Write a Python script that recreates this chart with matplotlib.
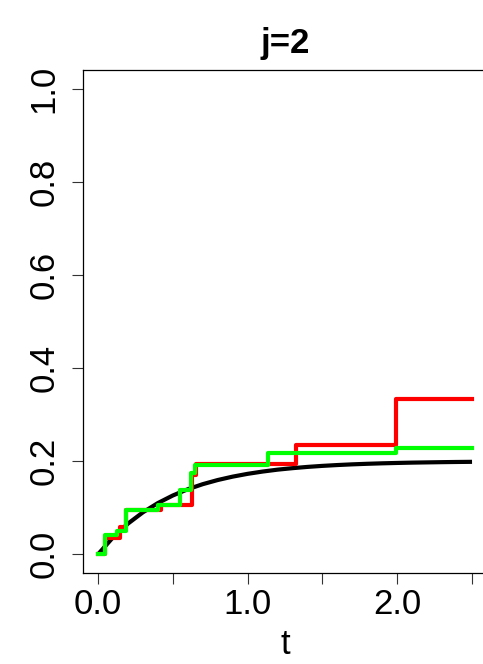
import matplotlib
matplotlib.use("Agg")
import matplotlib.pyplot as plt

plt.rcParams["font.family"] = ["Liberation Sans", "DejaVu Sans"]

# true cumulative incidence for cause j=2
true_t = [0.0, 0.1, 0.2, 0.3, 0.4, 0.5, 0.6, 0.7, 0.8, 0.9, 1.0, 1.1, 1.2,
          1.3, 1.4, 1.5, 1.6, 1.7, 1.8, 1.9, 2.0, 2.1, 2.2, 2.3, 2.4, 2.5]
true_cif = [0.0, 0.0363, 0.0659, 0.0902, 0.1101, 0.1264, 0.1398, 0.1507,
            0.1596, 0.1669, 0.1729, 0.1778, 0.1819, 0.1851, 0.1878, 0.1900,
            0.1918, 0.1933, 0.1945, 0.1955, 0.1963, 0.1970, 0.1975, 0.1980,
            0.1984, 0.1987]

# first estimator (red step function)
red_t = [0.0, 0.05, 0.145, 0.19, 0.42, 0.63, 0.655, 1.325, 1.99, 2.5]
red_cif = [0.0, 0.035, 0.058, 0.095, 0.105, 0.170, 0.193, 0.235, 0.333, 0.333]

# second estimator (green step function)
green_t = [0.0, 0.045, 0.125, 0.185, 0.40, 0.55, 0.62, 0.65, 1.135, 1.99, 2.5]
green_cif = [0.0, 0.042, 0.050, 0.095, 0.105, 0.138, 0.174, 0.191, 0.217,
             0.229, 0.229]

x_ticks = [0.0, 0.5, 1.0, 1.5, 2.0, 2.5]
x_labels = ["0.0", "", "1.0", "", "2.0", ""]
y_ticks = [0.0, 0.2, 0.4, 0.6, 0.8, 1.0]
y_labels = ["0.0", "0.2", "0.4", "0.6", "0.8", "1.0"]

W, H = 483, 664
fig = plt.figure(figsize=(W / 100, H / 100), dpi=100)
left, right, top, bottom = 83, 487, 70, 573
ax = fig.add_axes([left / W, (H - bottom) / H, (right - left) / W,
                   (bottom - top) / H])

lw = 3.0
ax.plot(true_t, true_cif, color="black", lw=lw, solid_capstyle="butt")
ax.step(red_t, red_cif, where="post", color="#ff0000", lw=lw)
ax.step(green_t, green_cif, where="post", color="#00ff00", lw=lw)

ax.set_xlim(-0.1, 2.6)
ax.set_ylim(-0.04, 1.04)

ax.set_xticks(x_ticks)
ax.set_xticklabels(x_labels, fontsize=25)
ax.set_yticks(y_ticks)
ax.set_yticklabels(y_labels, fontsize=25, rotation=90, va="center")
ax.tick_params(axis="both", direction="out", length=8, width=0.8,
               color="#333333")
ax.tick_params(axis="x", pad=3)
ax.tick_params(axis="y", pad=8)

for s in ax.spines.values():
    s.set_linewidth(0.9)
    s.set_color("black")

ax.set_title("j=2", fontsize=25, fontweight="bold", pad=12)
ax.set_xlabel("t", fontsize=25)
ax.xaxis.set_label_coords(((285 - left) / (right - left)),
                          -(628 - bottom) / (bottom - top))

fig.savefig("out.png", dpi=100)
